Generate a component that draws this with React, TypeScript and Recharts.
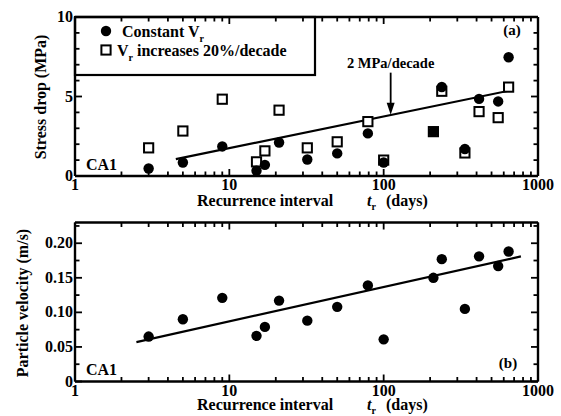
import React from 'react';
import { ScatterChart, Scatter, XAxis, YAxis, ReferenceLine } from 'recharts';

// recurrence interval t_r (days) of each repeating event
const recurrenceDays = [3, 5, 9, 15, 17, 21, 32, 50, 79, 100, 210, 238, 336, 415, 552, 645];
// panel (a): stress drop (MPa)
const stressConstantVr = [0.47, 0.85, 1.86, 0.33, 0.7, 2.11, 1.04, 1.42, 2.68, 0.85, 2.79, 5.6, 1.7, 4.85, 4.69, 7.47];
const stressIncreasingVr = [1.77, 2.83, 4.83, 0.89, 1.58, 4.14, 1.77, 2.15, 3.42, 1.0, 2.79, 5.33, 1.45, 4.05, 3.67, 5.59];
// panel (b): particle velocity (m/s)
const particleVelocity = [0.065, 0.09, 0.121, 0.066, 0.079, 0.117, 0.088, 0.108, 0.139, 0.061, 0.15, 0.177, 0.105, 0.181, 0.167, 0.188];

// fitted trend lines, end points
const stressFitDays = [4.5, 660];
const stressFitValues = [1.06, 5.38];
const velocityFitDays = [2.5, 775];
const velocityFitValues = [0.057, 0.181];

// "2 MPa/decade" arrow
const arrowDays = 111;
const arrowFrom = 6.5;
const arrowTo = 3.85;

const dayTicks = [1, 2, 3, 4, 5, 6, 7, 8, 9, 10, 20, 30, 40, 50, 60, 70, 80, 90, 100, 200, 300, 400, 500, 600, 700, 800, 900, 1000];
const dayLabels = [1, 10, 100, 1000];
const stressTicks = [0, 1, 2, 3, 4, 5, 6, 7, 8, 9, 10];
const stressLabels = [0, 5, 10];
const velocityTicks = [0, 0.025, 0.05, 0.075, 0.1, 0.125, 0.15, 0.175, 0.2, 0.225];
const velocityLabels = [0, 0.05, 0.1, 0.15, 0.2];

const FONT = '"Liberation Serif", "Times New Roman", serif';
const W = 561;
const LEFT = 75;
const RIGHT = 538;
const PLOT_W = RIGHT - LEFT;
const MAJOR = 7;
const MINOR = 4.5;

const near = (list: number[], v: number) => list.some((l) => Math.abs(l - v) < 1e-9);

// tick labels only
const bottomLabel = (props: any) => {
  const x = Number(props.x);
  const y = Number(props.y);
  const v = props.payload.value;
  if (!near(dayLabels, v)) return <g />;
  return (
    <text x={x} y={y + 14} textAnchor="middle" fontFamily={FONT} fontWeight="bold" fontSize={16} fill="#000">
      {String(v)}
    </text>
  );
};

const leftLabel = (labels: number[], fmt: (v: number) => string) => (props: any) => {
  const x = Number(props.x);
  const y = Number(props.y);
  const v = props.payload.value;
  if (!near(labels, v)) return <g />;
  return (
    <text x={x - 2} y={y + 5} textAnchor="end" fontFamily={FONT} fontWeight="bold" fontSize={16} fill="#000">
      {fmt(v)}
    </text>
  );
};

// inward tick marks on all four sides of a panel frame
const frameTicks = (top: number, bottom: number, yMax: number, yTicks: number[], yLabels: number[]) => {
  const xPix = (t: number) => LEFT + (PLOT_W * Math.log10(t)) / 3;
  const yPix = (v: number) => bottom - ((bottom - top) * v) / yMax;
  const out: React.ReactNode[] = [];
  dayTicks.forEach((t, i) => {
    const len = near(dayLabels, t) ? MAJOR : MINOR;
    const x = xPix(t);
    out.push(<line key={`b${top}-${i}`} x1={x} y1={bottom} x2={x} y2={bottom - len} stroke="#000" strokeWidth={1.8} />);
    out.push(<line key={`t${top}-${i}`} x1={x} y1={top} x2={x} y2={top + len} stroke="#000" strokeWidth={1.8} />);
  });
  yTicks.forEach((v, i) => {
    const len = near(yLabels, v) ? MAJOR : MINOR;
    const y = yPix(v);
    out.push(<line key={`l${top}-${i}`} x1={LEFT} y1={y} x2={LEFT + len} y2={y} stroke="#000" strokeWidth={1.8} />);
    out.push(<line key={`r${top}-${i}`} x1={RIGHT} y1={y} x2={RIGHT - len} y2={y} stroke="#000" strokeWidth={1.8} />);
  });
  return out;
};

const fmtInt = (v: number) => String(v);
const fmtVel = (v: number) => (v === 0 ? '0' : v.toFixed(2));

const circleShape = (p: any) => <circle cx={p.cx} cy={p.cy} r={5.2} fill="#000" />;
const squareShape = (p: any) => (
  <rect x={p.cx - 4.6} y={p.cy - 4.6} width={9.2} height={9.2} fill="#fff" stroke="#000" strokeWidth={2} />
);
const noShape = () => <g />;

const arrowShape = (p: any) => {
  const { x1, y1, x2, y2 } = p;
  return (
    <g>
      <text x={x1} y={y1 - 5} textAnchor="middle" fontFamily={FONT} fontWeight="bold" fontSize={14.5} fill="#000">
        2 MPa/decade
      </text>
      <line x1={x1} y1={y1} x2={x2} y2={y2 - 10} stroke="#000" strokeWidth={1.8} />
      <polygon points={`${x2 - 4},${y2 - 12} ${x2 + 4},${y2 - 12} ${x2},${y2}`} fill="#000" />
    </g>
  );
};

const axisLine = { stroke: '#000', strokeWidth: 2.4 };

const Frame: React.FC<{
  height: number;
  topH: number;
  bottomH: number;
  yDomain: [number, number];
  yTicks: number[];
  yLabels: number[];
  yFmt: (v: number) => string;
  children: React.ReactNode;
}> = ({ height, topH, bottomH, yDomain, yTicks, yLabels, yFmt, children }) => (
  <ScatterChart width={W} height={height} margin={{ top: 0, right: 0, bottom: 0, left: 0 }}>
    <XAxis
      dataKey="t"
      type="number"
      scale="log"
      domain={[1, 1000]}
      allowDataOverflow
      ticks={dayTicks}
      interval={0}
      height={bottomH}
      tickSize={0}
      tickMargin={0}
      axisLine={axisLine}
      tickLine={false}
      tick={bottomLabel}
    />
    <XAxis
      xAxisId="top"
      dataKey="t"
      orientation="top"
      type="number"
      scale="log"
      domain={[1, 1000]}
      allowDataOverflow
      height={topH}
      axisLine={axisLine}
      tickLine={false}
      tick={false}
    />
    <YAxis
      dataKey="v"
      type="number"
      domain={yDomain}
      allowDataOverflow
      ticks={yTicks}
      interval={0}
      width={LEFT}
      tickSize={0}
      tickMargin={0}
      axisLine={axisLine}
      tickLine={false}
      tick={leftLabel(yLabels, yFmt)}
    />
    <YAxis
      yAxisId="right"
      dataKey="v"
      orientation="right"
      type="number"
      domain={yDomain}
      allowDataOverflow
      width={W - RIGHT}
      axisLine={axisLine}
      tickLine={false}
      tick={false}
    />
    {children}
  </ScatterChart>
);

const toPoints = (xs: number[], ys: number[]) => xs.map((t, i) => ({ t, v: ys[i] }));

const title = (y: number) => (
  <text y={y} fontFamily={FONT} fontWeight="bold" fontSize={16} fill="#000">
    <tspan x={197}>Recurrence interval</tspan>
    <tspan x={367} fontStyle="italic">t</tspan>
    <tspan dy={4} fontSize={10}>r</tspan>
    <tspan x={386} dy={-4}>(days)</tspan>
  </text>
);

export default function App() {
  const txt = { fontFamily: FONT, fontWeight: 'bold' as const, fill: '#000' };
  return (
    <div style={{ position: 'absolute', left: 0, top: 0, width: W, height: 416, background: '#fff' }}>
      <div style={{ position: 'absolute', left: 0, top: 0 }}>
        <Frame height={210} topH={17} bottomH={34} yDomain={[0, 10]} yTicks={stressTicks} yLabels={stressLabels} yFmt={fmtInt}>
          <Scatter
            data={toPoints(stressFitDays, stressFitValues)}
            xAxisId="top"
            yAxisId="right"
            line={{ stroke: '#000', strokeWidth: 2.2 }}
            shape={noShape}
            isAnimationActive={false}
          />
          <Scatter data={toPoints(recurrenceDays, stressIncreasingVr)} shape={squareShape} isAnimationActive={false} />
          <Scatter data={toPoints(recurrenceDays, stressConstantVr)} shape={circleShape} isAnimationActive={false} />
          <ReferenceLine segment={[{ x: arrowDays, y: arrowFrom }, { x: arrowDays, y: arrowTo }]} shape={arrowShape} />
        </Frame>
      </div>
      <div style={{ position: 'absolute', left: 0, top: 210 }}>
        <Frame height={206} topH={12.5} bottomH={34.5} yDomain={[0, 0.23]} yTicks={velocityTicks} yLabels={velocityLabels} yFmt={fmtVel}>
          <Scatter
            data={toPoints(velocityFitDays, velocityFitValues)}
            xAxisId="top"
            yAxisId="right"
            line={{ stroke: '#000', strokeWidth: 2.2 }}
            shape={noShape}
            isAnimationActive={false}
          />
          <Scatter data={toPoints(recurrenceDays, particleVelocity)} shape={circleShape} isAnimationActive={false} />
        </Frame>
      </div>
      <svg width={W} height={416} style={{ position: 'absolute', left: 0, top: 0, pointerEvents: 'none' }}>
        {frameTicks(17, 176, 10, stressTicks, stressLabels)}
        {frameTicks(222.5, 381.5, 0.23, velocityTicks, velocityLabels)}
        {/* legend */}
        <rect x={75} y={17} width={240} height={58} fill="none" stroke="#000" strokeWidth={2.2} />
        <circle cx={106} cy={31} r={5.2} fill="#000" />
        <text x={122} y={37} fontSize={16} {...txt}>
          Constant V<tspan dy={5} fontSize={10}>r</tspan>
        </text>
        <rect x={101.4} y={45.4} width={9.2} height={9.2} fill="#fff" stroke="#000" strokeWidth={2} />
        <text x={117} y={56} fontSize={16} {...txt}>
          V<tspan dy={5} fontSize={10}>r</tspan>
          <tspan dy={-5}> increases 20%/decade</tspan>
        </text>
        <text x={512} y={35} textAnchor="middle" fontSize={15} {...txt}>(a)</text>
        <text x={86} y={170} fontSize={16} {...txt}>CA1</text>
        <text x={86} y={375} fontSize={16} {...txt}>CA1</text>
        <text x={508} y={368} textAnchor="middle" fontSize={15} {...txt}>(b)</text>
        {title(206)}
        {title(410)}
        <text x={40} y={97} transform="rotate(-90 40 97)" textAnchor="middle" dominantBaseline="central" fontSize={16} {...txt}>
          Stress drop (MPa)
        </text>
        <text x={22} y={303} transform="rotate(-90 22 303)" textAnchor="middle" dominantBaseline="central" fontSize={16} {...txt}>
          Particle velocity (m/s)
        </text>
      </svg>
    </div>
  );
}
